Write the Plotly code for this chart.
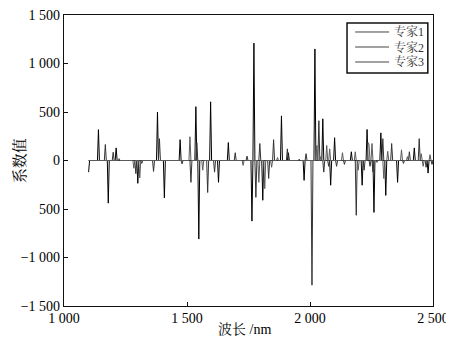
import numpy as np
import plotly.graph_objects as go

# Wavelength grid (nm) on which the coefficients are reported
wl_start, wl_end, wl_step = 1100, 2500, 4

# Non-zero coefficients: wavelength (nm) and value
expert1_wl = [1100, 1138, 1179, 1211, 1301, 1378, 1407, 1472, 1537, 1549, 1598, 1626, 1667,
              1764, 1772, 1809, 1882, 1911, 1976, 2020, 2053, 2085, 2098, 2167, 2211, 2232,
              2260, 2289, 2309, 2358, 2423, 2480]
expert1_val = [-120, 318, -440, 130, -235, 500, -385, 215, 555, -810, 605, -225, 185,
               -625, 1210, -410, 460, 80, -205, 1150, 430, -255, 235, 90, -255, 320,
               -535, 285, -360, -225, 130, -130]

expert2_wl = [1167, 1199, 1293, 1317, 1362, 1390, 1480, 1516, 1541, 1585, 1614, 1695, 1744,
              1780, 1797, 1833, 1854, 1907, 1984, 2008, 2037, 2057, 2077, 2106, 2138, 2187,
              2220, 2244, 2256, 2297, 2333, 2378, 2406, 2443, 2472, 2496]
expert2_val = [165, 85, -135, -30, -113, 225, -35, -225, 185, -330, -120, 80, 45,
               -380, 175, -185, 215, 120, 70, -1285, 410, -120, -60, -60, -40, -565,
               -100, -60, -120, 225, 175, -30, 90, 225, -70, -40]

expert3_wl = [1224, 1285, 1309, 1512, 1565, 1728, 1793, 1817, 1846, 1866, 1955, 2028, 2045,
              2069, 2081, 2130, 2183, 2195, 2236, 2240, 2252, 2272, 2301, 2317, 2370, 2394,
              2451, 2459, 2488]
expert3_val = [20, -80, -180, 245, -100, -50, -225, -290, -70, 30, 15, 155, 40,
               155, 120, 80, 90, -100, 185, 160, 175, -20, -185, 95, 110, 40,
               70, -60, 60]

series_names = ["专家1", "专家2", "专家3"]
series_colors = ["#000000", "#333333", "#5a5a5a"]

x_tickvals = [1000, 1500, 2000, 2500]
x_ticktext = ["1 000", "1 500", "2 000", "2 500"]
y_tickvals = [1500, 1000, 500, 0, -500, -1000, -1500]
y_ticktext = ["1 500", "1 000", "500", "0", "500", "\u22121 000", "\u22121 500"]

x_title = "波长 /nm"
y_title = "系数值"

grid = np.arange(wl_start, wl_end + 1, wl_step)


def on_grid(wls, vals):
    y = np.zeros(len(grid))
    for w, v in zip(wls, vals):
        idx = int(round((w - wl_start) / wl_step))
        y[idx] = v
    return y


FONT = "Liberation Serif, Times New Roman, Noto Serif CJK SC, Noto Sans CJK SC, serif"

fig = go.Figure()
for name, color, (wls, vals) in zip(series_names, series_colors,
                                    [(expert1_wl, expert1_val),
                                     (expert2_wl, expert2_val),
                                     (expert3_wl, expert3_val)]):
    fig.add_trace(go.Scatter(x=grid, y=on_grid(wls, vals), mode="lines", name=name,
                             line=dict(color=color, width=1), showlegend=False))

# Hand-drawn legend box (compact spacing as in the reference)
shapes = [dict(type="rect", xref="paper", yref="paper", x0=0.767, x1=0.986,
               y0=0.801, y1=0.9725, line=dict(color="#111", width=1.5),
               fillcolor="white", layer="above")]
annotations = []
legend_rows = [0.9416, 0.890, 0.8385]
for name, color, yy in zip(series_names, series_colors, legend_rows):
    shapes.append(dict(type="line", xref="paper", yref="paper", x0=0.789, x1=0.881,
                       y0=yy, y1=yy, line=dict(color="#444", width=1), layer="above"))
    annotations.append(dict(text=name, xref="paper", yref="paper", x=0.889, y=yy,
                            xanchor="left", yanchor="middle", showarrow=False,
                            font=dict(family=FONT, size=12, color="#333")))

annotations.append(dict(text=x_title, xref="paper", yref="paper", x=0.49, y=-0.082,
                        xanchor="center", yanchor="middle", showarrow=False,
                        font=dict(family=FONT, size=14, color="black")))
annotations.append(dict(text=y_title, xref="paper", yref="paper", x=-0.12, y=0.5,
                        xanchor="center", yanchor="middle", showarrow=False,
                        textangle=-90,
                        font=dict(family=FONT, size=15, color="black")))

fig.update_layout(
    width=454, height=346,
    margin=dict(l=56, r=29, t=7, b=48),
    paper_bgcolor="white", plot_bgcolor="white",
    font=dict(family=FONT, size=14, color="black"),
    showlegend=False,
    shapes=shapes,
    annotations=annotations,
)
fig.update_xaxes(range=[1000, 2500], tickvals=x_tickvals, ticktext=x_ticktext,
                 showline=True, linecolor="#111", linewidth=1.3, mirror=True,
                 ticks="inside", ticklen=4, tickcolor="#111", showgrid=False,
                 zeroline=False, automargin=False, ticklabelstandoff=-1,
                 ticklabeloverflow="allow")
fig.update_yaxes(range=[-1500, 1500], tickvals=y_tickvals, ticktext=y_ticktext,
                 showline=True, linecolor="#111", linewidth=1.3, mirror=True,
                 ticks="inside", ticklen=4, tickcolor="#111", showgrid=False,
                 zeroline=False, automargin=False, ticklabeloverflow="allow")

fig.write_html("out.html")
